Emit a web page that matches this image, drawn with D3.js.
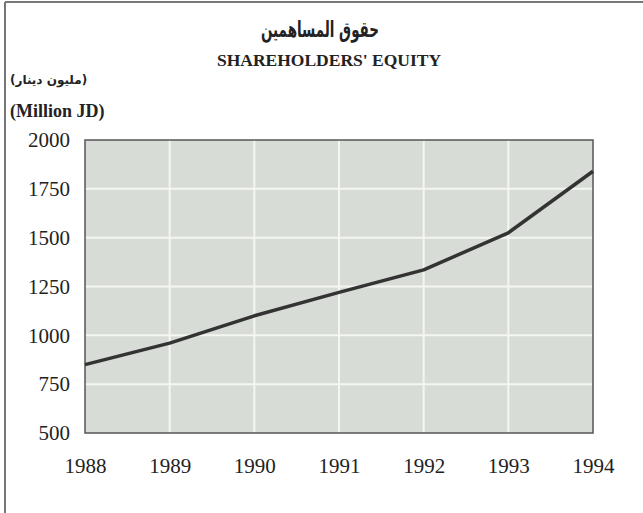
<!DOCTYPE html>
<html>
<head>
<meta charset="utf-8">
<script src="https://cdn.jsdelivr.net/npm/d3@7"></script>
<style>
  body { margin: 0; background: #fff; }
  svg { display: block; }
</style>
</head>
<body>
<svg id="chart" width="643" height="513"></svg>
<script>
// Data
const years = [1988, 1989, 1990, 1991, 1992, 1993, 1994];
const equity = [850, 960, 1100, 1220, 1335, 1525, 1840];
const yTicks = [500, 750, 1000, 1250, 1500, 1750, 2000];

const titleAr = "حقوق المساهمين";
const titleEn = "SHAREHOLDERS' EQUITY";
const unitAr = "(مليون دينار)";
const unitEn = "(Million JD)";

const svg = d3.select("#chart");
const margin = { left: 85, right: 50, top: 140, bottom: 80 };
const width = 643, height = 513;

const x = d3.scaleLinear().domain([1988, 1994]).range([margin.left, width - margin.right]);
const y = d3.scaleLinear().domain([500, 2000]).range([height - margin.bottom, margin.top]);

const serif = "'Liberation Serif', 'Times New Roman', serif";
const arabic = "'DejaVu Sans', 'Noto Sans', sans-serif";

// outer frame (top and left edges of the page box)
svg.append("line").attr("x1", 5).attr("x2", 643).attr("y1", 2).attr("y2", 2)
  .attr("stroke", "#777").attr("stroke-width", 2);
svg.append("line").attr("x1", 5).attr("x2", 5).attr("y1", 2).attr("y2", 513)
  .attr("stroke", "#777").attr("stroke-width", 2);

// titles
svg.append("text").attr("x", 320).attr("y", 37).attr("text-anchor", "middle")
  .attr("textLength", 118).attr("lengthAdjust", "spacingAndGlyphs")
  .style("font-family", arabic).style("font-weight", "bold")
  .style("font-size", "22px").attr("fill", "#222").text(titleAr);
svg.append("text").attr("x", 329).attr("y", 66).attr("text-anchor", "middle")
  .style("font-family", serif).style("font-weight", "bold")
  .style("font-size", "17.5px").attr("fill", "#222").text(titleEn);
svg.append("text").attr("x", 10).attr("y", 84)
  .attr("direction", "rtl").attr("text-anchor", "end")
  .style("font-family", arabic).style("font-weight", "bold")
  .style("font-size", "12px").attr("fill", "#222").text(unitAr);
svg.append("text").attr("x", 10).attr("y", 117)
  .style("font-family", serif).style("font-weight", "bold")
  .style("font-size", "18px").attr("fill", "#222").text(unitEn);

// plot background
const plot = svg.append("g");
plot.append("rect")
  .attr("x", x(1988)).attr("y", y(2000))
  .attr("width", x(1994) - x(1988)).attr("height", y(500) - y(2000))
  .attr("fill", "#d8dcd7");

// gridlines
plot.selectAll(".vgrid").data(years.slice(1, -1)).enter().append("line")
  .attr("x1", d => x(d)).attr("x2", d => x(d))
  .attr("y1", y(2000)).attr("y2", y(500))
  .attr("stroke", "#f4f6f2").attr("stroke-width", 2);
plot.selectAll(".hgrid").data(yTicks.slice(1, -1)).enter().append("line")
  .attr("x1", x(1988)).attr("x2", x(1994))
  .attr("y1", d => y(d)).attr("y2", d => y(d))
  .attr("stroke", "#f4f6f2").attr("stroke-width", 2);

// plot border
plot.append("rect")
  .attr("x", x(1988)).attr("y", y(2000))
  .attr("width", x(1994) - x(1988)).attr("height", y(500) - y(2000))
  .attr("fill", "none").attr("stroke", "#555").attr("stroke-width", 1.5);

// axes labels
const yAxis = d3.axisLeft(y).tickValues(yTicks).tickFormat(d3.format("d")).tickSize(0).tickPadding(15);
const gy = svg.append("g").attr("transform", `translate(${x(1988)},0)`).call(yAxis);
gy.select(".domain").remove();
gy.selectAll("text").style("font-family", serif).style("font-size", "21px").attr("fill", "#222");

const xAxis = d3.axisBottom(x).tickValues(years).tickFormat(d3.format("d")).tickSize(0).tickPadding(25);
const gx = svg.append("g").attr("transform", `translate(0,${y(500)})`).call(xAxis);
gx.select(".domain").remove();
gx.selectAll("text").style("font-family", serif).style("font-size", "21px").attr("fill", "#222");

// line
const line = d3.line().x((d, i) => x(years[i])).y(d => y(d));
svg.append("path").datum(equity)
  .attr("d", line)
  .attr("fill", "none").attr("stroke", "#333").attr("stroke-width", 3.5)
  .attr("stroke-linejoin", "round");
</script>
</body>
</html>
